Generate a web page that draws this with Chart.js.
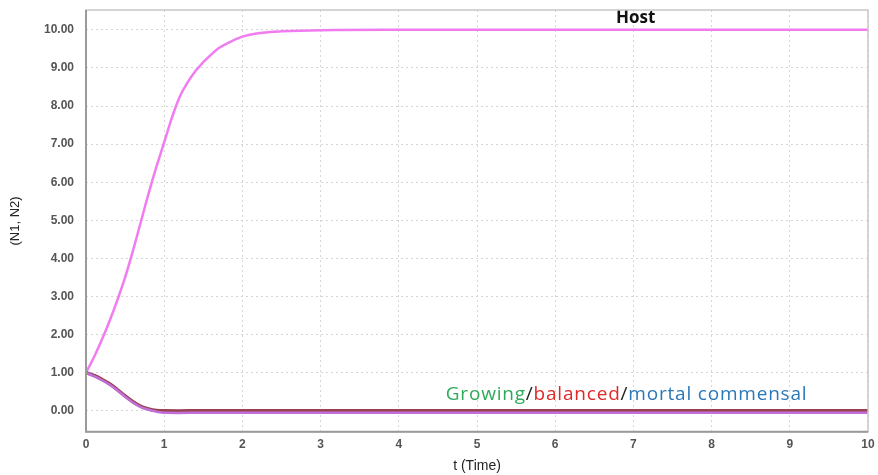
<!DOCTYPE html>
<html>
<head>
<meta charset="utf-8">
<script src="https://cdn.jsdelivr.net/npm/chart.js@4.4.0/dist/chart.umd.min.js"></script>
<style>
  html, body { margin: 0; padding: 0; background: #fff; }
  #wrap { width: 878px; height: 475px; position: relative; }
</style>
</head>
<body>
<div id="wrap"><canvas id="lineChart"></canvas></div>
<script>
// values
var hostTime = [0, 0.1, 0.2, 0.3, 0.4, 0.5, 0.6, 0.7, 0.8, 0.9, 1.0, 1.1, 1.2, 1.3, 1.4, 1.5, 1.6, 1.7, 1.8, 2.0, 2.2, 2.5, 3.0, 4.0, 10];
var hostValues = [1.0, 1.4, 1.85, 2.35, 2.9, 3.5, 4.2, 4.95, 5.7, 6.4, 7.05, 7.7, 8.25, 8.62, 8.92, 9.15, 9.35, 9.52, 9.64, 9.82, 9.91, 9.96, 9.99, 10.0, 10.0];

var commTime = [0, 0.1, 0.2, 0.3, 0.4, 0.5, 0.6, 0.7, 0.8, 0.9, 1.0, 1.5, 10];
var growingValues = [1.0, 0.93, 0.83, 0.71, 0.56, 0.39, 0.24, 0.12, 0.05, 0.01, 0.0, 0.0, 0.0];
var balancedValues = [1.0, 0.92, 0.82, 0.7, 0.55, 0.38, 0.23, 0.11, 0.04, 0.0, -0.02, -0.02, -0.02];
var mortalValues = [1.0, 0.91, 0.81, 0.69, 0.54, 0.37, 0.22, 0.1, 0.03, -0.02, -0.05, -0.05, -0.05];

var xTicks = [0, 1, 2, 3, 4, 5, 6, 7, 8, 9, 10];
var yTicks = [0, 1, 2, 3, 4, 5, 6, 7, 8, 9, 10];

function toPoints(xs, ys) {
  return xs.map(function (x, i) { return { x: x, y: ys[i] }; });
}

// text labels placed on the plot
var annotations = {
  id: 'annotations',
  afterDatasetsDraw: function (chart) {
    var ctx = chart.ctx;
    var xs = chart.scales.x, ys = chart.scales.y;
    ctx.save();
    ctx.textBaseline = 'middle';
    ctx.font = 'bold 17px "Open Sans", sans-serif';
    ctx.fillStyle = '#111';
    ctx.textAlign = 'center';
    ctx.fillText('Host', xs.getPixelForValue(7.03), ys.getPixelForValue(10.3));

    ctx.font = '19px "Open Sans", sans-serif';
    ctx.letterSpacing = '0.8px';
    ctx.textAlign = 'left';
    var parts = [
      ['Growing', '#2eaa5a'],
      ['/', '#222'],
      ['balanced', '#e02828'],
      ['/', '#222'],
      ['mortal commensal', '#2a78b8']
    ];
    var px = xs.getPixelForValue(4.6);
    var py = ys.getPixelForValue(0.42);
    parts.forEach(function (p) {
      ctx.fillStyle = p[1];
      ctx.fillText(p[0], px, py);
      px += ctx.measureText(p[0]).width;
    });
    ctx.restore();
  }
};

var ctx = document.getElementById('lineChart').getContext('2d');
new Chart(ctx, {
  type: 'line',
  data: {
    datasets: [
      {
        label: 'mortal commensal',
        data: toPoints(commTime, mortalValues),
        borderColor: '#c070d8',
        borderWidth: 2.5,
        pointRadius: 0,
        tension: 0.4
      },
      {
        label: 'growing commensal',
        data: toPoints(commTime, growingValues),
        borderColor: '#9a4250',
        borderWidth: 3.5,
        pointRadius: 0,
        tension: 0.4
      },
      {
        label: 'balanced commensal',
        data: toPoints(commTime, balancedValues),
        borderColor: '#d95a58',
        borderWidth: 2,
        pointRadius: 0,
        tension: 0.4
      },
      {
        label: 'Host',
        data: toPoints(hostTime, hostValues),
        borderColor: '#f07cf0',
        borderWidth: 2.5,
        pointRadius: 0,
        tension: 0.4
      }
    ]
  },
  options: {
    responsive: true,
    maintainAspectRatio: false,
    animation: false,
    layout: { padding: { top: 10, right: 10, left: 8, bottom: 0 } },
    plugins: {
      legend: { display: false },
      tooltip: { enabled: false }
    },
    scales: {
      x: {
        type: 'linear',
        min: 0,
        max: 10,
        afterBuildTicks: function (axis) {
          axis.ticks = xTicks.map(function (v) { return { value: v }; });
        },
        afterFit: function (axis) {
          axis.paddingRight = 0;
          axis.paddingLeft = 0;
        },
        grid: {
          color: '#d6d6d6',
          drawTicks: false
        },
        border: { display: false, dash: [2, 3] },
        ticks: {
          color: '#555',
          font: { family: 'Arial, "Liberation Sans", sans-serif', size: 12, weight: 'bold' },
          padding: 6,
          maxRotation: 0
        },
        title: {
          display: true,
          text: 't (Time)',
          color: '#222',
          font: { family: 'Arial, "Liberation Sans", sans-serif', size: 14 },
          padding: { top: 0, bottom: 0 }
        }
      },
      y: {
        min: -0.55,
        max: 10.52,
        afterBuildTicks: function (axis) {
          axis.ticks = yTicks.map(function (v) { return { value: v }; });
        },
        afterFit: function (axis) {
          axis.width = 78;
          axis.paddingTop = 0;
          axis.paddingBottom = 0;
        },
        grid: {
          color: '#d6d6d6',
          drawTicks: false
        },
        border: { display: false, dash: [2, 3] },
        ticks: {
          color: '#555',
          font: { family: 'Arial, "Liberation Sans", sans-serif', size: 12, weight: 'bold' },
          padding: 12,
          callback: function (v) { return v.toFixed(2); }
        },
        title: {
          display: true,
          text: '(N1, N2)',
          color: '#222',
          font: { family: 'Arial, "Liberation Sans", sans-serif', size: 13 },
          padding: { top: 0, bottom: 2 }
        }
      }
    }
  },
  plugins: [annotations, {
    id: 'frame',
    afterDraw: function (chart) {
      var a = chart.chartArea, c = chart.ctx;
      c.save();
      c.strokeStyle = '#c8c8c8';
      c.lineWidth = 1.5;
      c.strokeRect(a.left, a.top, a.right - a.left, a.bottom - a.top);
      c.strokeStyle = '#9a9a9a';
      c.lineWidth = 2;
      c.beginPath();
      c.moveTo(a.left, a.top);
      c.lineTo(a.left, a.bottom);
      c.lineTo(a.right, a.bottom);
      c.stroke();
      c.restore();
    }
  }]
});
</script>
</body>
</html>
